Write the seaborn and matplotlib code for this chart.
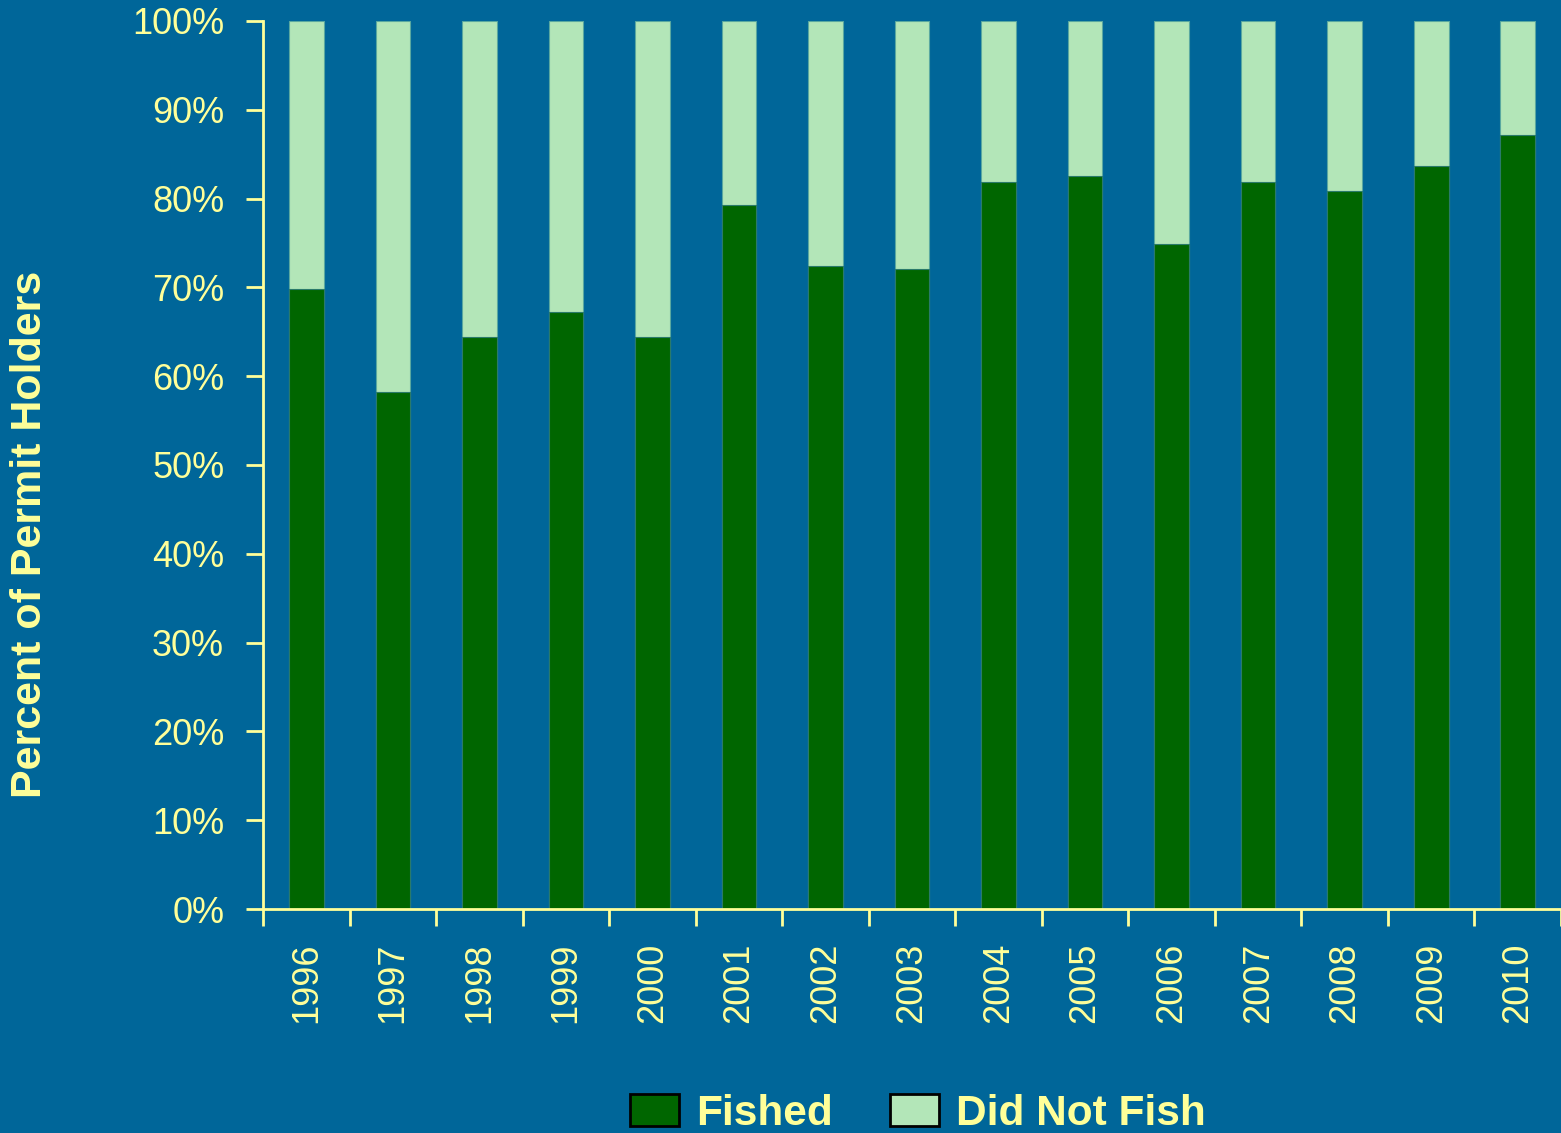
import pandas as pd
import seaborn as sns
import matplotlib.pyplot as plt
from matplotlib.patches import Patch
from matplotlib.ticker import FuncFormatter

years = ["1996", "1997", "1998", "1999", "2000", "2001", "2002", "2003",
         "2004", "2005", "2006", "2007", "2008", "2009", "2010"]
fished = [69.8, 58.2, 64.4, 67.2, 64.4, 79.3, 72.4, 72.1,
          81.9, 82.5, 74.9, 81.9, 80.9, 83.7, 87.2]
did_not_fish = [30.2, 41.8, 35.6, 32.8, 35.6, 20.7, 27.6, 27.9,
                18.1, 17.5, 25.1, 18.1, 19.1, 16.3, 12.8]

bg = "#006699"
dark = "#006600"
light = "#B3E6B8"
txt = "#FFFF99"

df = pd.DataFrame({"Year": years, "Fished": fished, "DidNotFish": did_not_fish})
df["Total"] = df["Fished"] + df["DidNotFish"]

sns.set_theme(style="ticks")
plt.rcParams["font.family"] = ["Liberation Sans", "DejaVu Sans"]

fig = plt.figure(figsize=(15.61, 11.33), dpi=100, facecolor=bg)
ax = fig.add_axes([0.1685, 0.1977, 0.8315, 0.7838])
ax.set_facecolor(bg)

# stacked bars: full height first, fished on top of it
sns.barplot(data=df, x="Year", y="Total", color=light, width=0.4,
            saturation=1, edgecolor="#5AA8A0", linewidth=0.8, ax=ax)
sns.barplot(data=df, x="Year", y="Fished", color=dark, width=0.4,
            saturation=1, edgecolor="#2A7A6A", linewidth=0.8, ax=ax)

ax.set_xlim(-0.5, len(years) - 0.5)
ax.set_ylim(0, 100)
ax.set_yticks(range(0, 101, 10))
ax.yaxis.set_major_formatter(FuncFormatter(lambda v, p: "%d%%" % v))
ax.set_xlabel("")
ax.set_ylabel("")

# x ticks sit on the category boundaries
ax.set_xticks([i - 0.5 for i in range(len(years) + 1)], minor=True)
ax.tick_params(axis="x", which="minor", length=12, width=2, color=txt, direction="out")
ax.tick_params(axis="x", which="major", length=0, pad=24, labelsize=26,
               labelcolor=txt, labelrotation=90)
ax.tick_params(axis="y", length=12, width=2, color=txt, labelsize=26,
               labelcolor=txt, pad=16)

for s in ["top", "right"]:
    ax.spines[s].set_visible(False)
for s in ["left", "bottom"]:
    ax.spines[s].set_color(txt)
    ax.spines[s].set_linewidth(2)

fig.text(0.019, 0.528, "Percent of Permit Holders", rotation=90, color=txt,
         fontsize=31, fontweight="bold", ha="center", va="center")

handles = [Patch(facecolor=dark, edgecolor="black", linewidth=2, label="Fished"),
           Patch(facecolor=light, edgecolor="black", linewidth=2, label="Did Not Fish")]
leg = fig.legend(handles=handles, loc="center", bbox_to_anchor=(0.588, 0.017), ncol=2,
                 frameon=False, handlelength=1.15, handleheight=0.8,
                 handletextpad=0.4, columnspacing=1.35,
                 prop={"size": 30.5, "weight": "bold"})
for t in leg.get_texts():
    t.set_color(txt)

plt.savefig("out.png", dpi=100, facecolor=bg)
